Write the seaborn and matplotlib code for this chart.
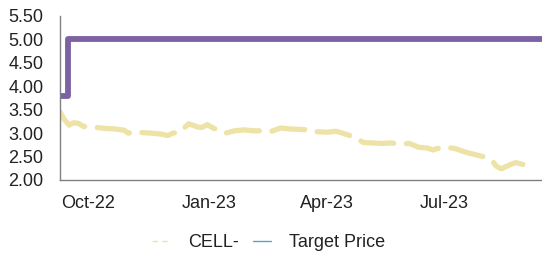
import matplotlib
matplotlib.use("Agg")
import matplotlib.pyplot as plt
import matplotlib.dates as mdates
from matplotlib.lines import Line2D
import seaborn as sns
import pandas as pd
import numpy as np

# ---- data ----
price_days = [0, 3, 7, 10, 14, 18, 21, 28, 35, 42, 49, 52, 56, 63, 70, 77, 82, 86, 91,
              98, 102, 105, 108, 112, 116, 119, 126, 133, 140, 147, 154, 161, 168, 175,
              182, 189, 196, 203, 210, 214, 217, 224, 231, 238, 245, 252, 259, 266, 273,
              280, 284, 287, 294, 301, 308, 315, 322, 329, 332, 336, 343, 347, 350, 357,
              361]
price_vals = [3.45, 3.30, 3.17, 3.22, 3.21, 3.14, 3.15, 3.12, 3.10, 3.09, 3.06, 3.00,
              3.03, 3.01, 3.00, 2.98, 2.95, 3.00, 3.02, 3.20, 3.16, 3.13, 3.12, 3.18,
              3.12, 3.08, 3.00, 3.05, 3.07, 3.05, 3.05, 3.04, 3.11, 3.09, 3.08, 3.07,
              3.03, 3.02, 3.04, 3.01, 2.98, 2.92, 2.80, 2.79, 2.78, 2.79, 2.77, 2.78,
              2.70, 2.68, 2.64, 2.67, 2.70, 2.67, 2.60, 2.55, 2.50, 2.42, 2.30, 2.24,
              2.33, 2.37, 2.35, 2.30, 2.28]
start_date = "2022-09-30"
target_dates = ["2022-09-30", "2022-10-06", "2023-10-02"]
target_vals = [3.80, 5.00, 5.00]
y_ticks = [2.00, 2.50, 3.00, 3.50, 4.00, 4.50, 5.00, 5.50]
x_ticks = ["2022-10-01", "2023-01-01", "2023-04-01", "2023-07-01"]
x_labels = ["Oct-22", "Jan-23", "Apr-23", "Jul-23"]
legend_labels = ["CELL-", "Target Price"]

price_df = pd.DataFrame({
    "date": pd.Timestamp(start_date) + pd.to_timedelta(price_days, unit="D"),
    "value": price_vals,
})
target_df = pd.DataFrame({"date": pd.to_datetime(target_dates), "value": target_vals})

sns.set_theme(style="white")
plt.rcParams["font.family"] = ["Liberation Sans", "DejaVu Sans"]

fig = plt.figure(figsize=(5.42, 2.54), dpi=100)
ax = fig.add_axes([60 / 542, 1 - 180 / 254, 482 / 542, 164 / 254])

price_color = "#EDE3A6"
target_color = "#7D62A3"
fs = 13

sns.lineplot(data=price_df, x="date", y="value", ax=ax, color=price_color,
             linewidth=3.8, legend=False)
ax.lines[-1].set_dashes((6.3, 2.4))
ax.lines[-1].set_dash_capstyle("round")
ax.lines[-1].set_solid_joinstyle("round")
sns.lineplot(data=target_df, x="date", y="value", ax=ax, color=target_color,
             linewidth=4.2, drawstyle="steps-post", legend=False)

ax.set_xlim(pd.Timestamp("2022-09-30"), pd.Timestamp("2023-10-02"))
ax.set_ylim(2.0, 5.5)
ax.set_yticks(y_ticks)
ax.set_yticklabels([f"{v:.2f}" for v in y_ticks])
ax.set_xticks(pd.to_datetime(x_ticks))
ax.set_xticklabels(x_labels, ha="left")
ax.set_xlabel("")
ax.set_ylabel("")

for s in ["top", "right"]:
    ax.spines[s].set_visible(False)
for s in ["left", "bottom"]:
    ax.spines[s].set_color("#808080")
    ax.spines[s].set_linewidth(1.0)
ax.tick_params(axis="y", length=0, pad=12, labelsize=fs, labelcolor="#222222")
ax.tick_params(axis="x", length=4, width=0.8, color="#404040", direction="out",
               pad=7, labelsize=fs, labelcolor="#222222")

handles = [
    Line2D([], [], color=price_color, linewidth=1.0, linestyle=(0, (4, 3))),
    Line2D([], [], color="#5BA3CF", linewidth=1.0),
]
fig.legend(handles, legend_labels, loc="center", bbox_to_anchor=(0.495, 0.045),
           ncol=2, frameon=False, fontsize=fs, handlelength=1.0,
           handletextpad=1.0, columnspacing=0.8, labelcolor="#222222")

fig.savefig("out.png", dpi=100)
